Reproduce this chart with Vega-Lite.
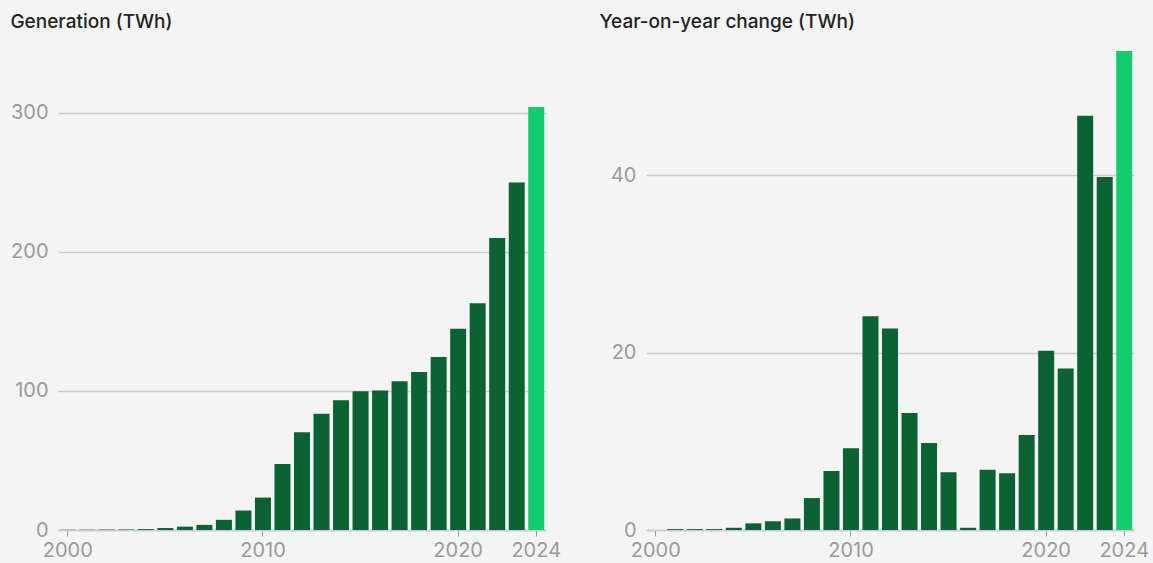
{
  "$schema": "https://vega.github.io/schema/vega-lite/v6.json",
  "background": "#f4f4f4",
  "padding": {"left": 10, "top": 13, "right": 20, "bottom": 20},
  "spacing": 38,
  "datasets": {
    "solar": [
      {"year": 2000, "generation": 0.1, "change": 0.0},
      {"year": 2001, "generation": 0.2, "change": 0.1},
      {"year": 2002, "generation": 0.3, "change": 0.1},
      {"year": 2003, "generation": 0.4, "change": 0.1},
      {"year": 2004, "generation": 0.65, "change": 0.25},
      {"year": 2005, "generation": 1.4, "change": 0.75},
      {"year": 2006, "generation": 2.4, "change": 1.0},
      {"year": 2007, "generation": 3.7, "change": 1.3},
      {"year": 2008, "generation": 7.3, "change": 3.6},
      {"year": 2009, "generation": 14.0, "change": 6.65},
      {"year": 2010, "generation": 23.3, "change": 9.2},
      {"year": 2011, "generation": 47.4, "change": 24.1},
      {"year": 2012, "generation": 70.2, "change": 22.7},
      {"year": 2013, "generation": 83.5, "change": 13.2},
      {"year": 2014, "generation": 93.3, "change": 9.8},
      {"year": 2015, "generation": 99.8, "change": 6.5},
      {"year": 2016, "generation": 100.2, "change": 0.25},
      {"year": 2017, "generation": 107.0, "change": 6.8},
      {"year": 2018, "generation": 113.6, "change": 6.4},
      {"year": 2019, "generation": 124.4, "change": 10.7},
      {"year": 2020, "generation": 144.6, "change": 20.2},
      {"year": 2021, "generation": 162.9, "change": 18.2},
      {"year": 2022, "generation": 209.8, "change": 46.7},
      {"year": 2023, "generation": 249.8, "change": 39.8},
      {"year": 2024, "generation": 304.0, "change": 54.0}
    ]
  },
  "config": {
    "view": {"stroke": null},
    "font": "Inter",
    "axis": {
      "labelFont": "Inter",
      "labelFontSize": 20,
      "labelColor": "#9a9a9a",
      "title": null,
      "gridColor": "#cbcbcb",
      "gridWidth": 1.5
    },
    "title": {
      "font": "Inter",
      "fontSize": 19,
      "fontWeight": 500,
      "color": "#222222",
      "anchor": "start",
      "frame": "bounds",
      "offset": 18
    }
  },
  "hconcat": [
    {
      "title": {"text": "Generation (TWh)"},
      "width": 488,
      "height": 480,
      "data": {"name": "solar"},
      "mark": {"type": "bar"},
      "encoding": {
        "x": {
          "field": "year",
          "type": "ordinal",
          "scale": {"paddingInner": 0.18, "paddingOuter": 0.09},
          "axis": {
            "values": [2000, 2010, 2020, 2024],
            "labelAngle": 0,
            "domainColor": "#cbcbcb",
            "domainWidth": 1.5,
            "tickColor": "#9a9a9a",
            "tickSize": 6,
            "labelPadding": 4,
            "grid": false
          }
        },
        "y": {
          "field": "generation",
          "type": "quantitative",
          "scale": {"domain": [0, 345], "nice": false},
          "axis": {
            "values": [0, 100, 200, 300],
            "domain": false,
            "ticks": false,
            "labelPadding": 10,
            "grid": true
          }
        },
        "color": {
          "condition": {"test": "datum.year === 2024", "value": "#12cc6e"},
          "value": "#0b6335"
        }
      }
    },
    {
      "title": {"text": "Year-on-year change (TWh)", "dx": -11},
      "width": 488,
      "height": 480,
      "data": {"name": "solar"},
      "mark": {"type": "bar"},
      "encoding": {
        "x": {
          "field": "year",
          "type": "ordinal",
          "scale": {"paddingInner": 0.18, "paddingOuter": 0.09},
          "axis": {
            "values": [2000, 2010, 2020, 2024],
            "labelAngle": 0,
            "domainColor": "#cbcbcb",
            "domainWidth": 1.5,
            "tickColor": "#9a9a9a",
            "tickSize": 6,
            "labelPadding": 4,
            "grid": false
          }
        },
        "y": {
          "field": "change",
          "type": "quantitative",
          "scale": {"domain": [0, 54.1], "nice": false},
          "axis": {
            "values": [0, 20, 40],
            "domain": false,
            "ticks": false,
            "labelPadding": 10,
            "grid": true
          }
        },
        "color": {
          "condition": {"test": "datum.year === 2024", "value": "#12cc6e"},
          "value": "#0b6335"
        }
      }
    }
  ]
}
